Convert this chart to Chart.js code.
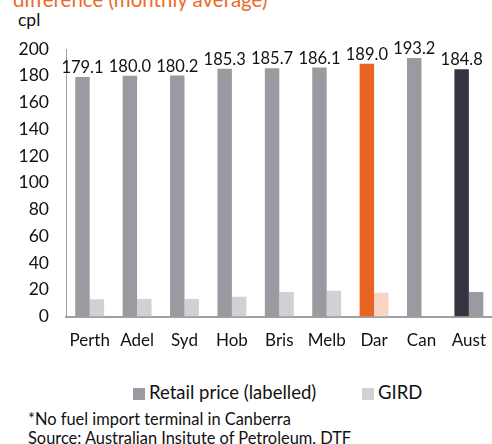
<!DOCTYPE html>
<html><head><meta charset="utf-8">
<script src="https://cdn.jsdelivr.net/npm/chart.js@4"></script>
<style>
html,body{margin:0;padding:0;background:#fff;overflow:hidden;width:492px;height:444px;font-family:Lato,"Open Sans",sans-serif;}
#wrap{position:absolute;left:0;top:0;width:500px;height:365px;}
.t{position:absolute;white-space:nowrap;color:#111;}
#title{left:13px;top:-11px;font-size:20.5px;line-height:1;color:#ee6a2a;}
#cpl{left:18px;top:9px;font-size:17.5px;}
#legend{position:absolute;top:381px;left:0;width:492px;font-size:18.5px;color:#111;}
.li{position:absolute;top:0;white-space:nowrap;}
.sw{display:inline-block;width:12px;height:12px;margin-right:4px;vertical-align:-1px;}
#f1{left:28px;top:409px;font-size:16.4px;}
#f2{left:28px;top:428px;font-size:16.4px;}
</style></head>
<body>
<div class="t" id="title">difference (monthly average)</div>
<div class="t" id="cpl">cpl</div>
<div id="wrap"><canvas id="c" width="500" height="365"></canvas></div>
<div id="legend">
  <span class="li" style="left:133px"><span class="sw" style="background:#9a9ba0"></span>Retail price (labelled)</span>
  <span class="li" style="left:362px"><span class="sw" style="background:#d0d1d5"></span>GIRD</span>
</div>
<div class="t" id="f1">*No fuel import terminal in Canberra</div>
<div class="t" id="f2">Source: Australian Insitute of Petroleum, DTF</div>
<script>
const categories = ["Perth","Adel","Syd","Hob","Bris","Melb","Dar","Can","Aust"];
const retailPrice = [179.1,180.0,180.2,185.3,185.7,186.1,189.0,193.2,184.8];
const gird = [12.9,13.1,13.1,14.8,18.4,19.3,17.8,null,18.4];
const yTicks = [0,20,40,60,80,100,120,140,160,180,200];

const retailColors = ["#9a9ba0","#9a9ba0","#9a9ba0","#9a9ba0","#9a9ba0","#9a9ba0","#e86424","#9a9ba0","#343541"];
const girdColors = ["#d0d1d5","#d0d1d5","#d0d1d5","#d0d1d5","#d0d1d5","#d0d1d5","#f8d5c5","#d0d1d5","#9a9ba0"];

const labelPlugin = {
  id:'barLabels',
  afterDatasetsDraw(chart){
    const ctx = chart.ctx;
    const meta = chart.getDatasetMeta(0);
    ctx.save();
    ctx.font = '16.5px Lato';
    ctx.fillStyle = '#111';
    ctx.textAlign = 'center';
    ctx.textBaseline = 'bottom';
    meta.data.forEach((bar,i)=>{
      ctx.fillText(retailPrice[i].toFixed(1), bar.x, bar.y - 1);
    });
    ctx.restore();
  }
};

new Chart(document.getElementById('c'),{
  type:'bar',
  data:{
    labels:categories,
    datasets:[
      {label:'Retail price (labelled)',data:retailPrice,backgroundColor:retailColors,categoryPercentage:0.61,barPercentage:1},
      {label:'GIRD',data:gird,backgroundColor:girdColors,categoryPercentage:0.61,barPercentage:1}
    ]
  },
  options:{
    responsive:false,
    animation:false,
    layout:{padding:{top:49,left:0,right:0,bottom:0}},
    plugins:{legend:{display:false},tooltip:{enabled:false}},
    scales:{
      x:{
        grid:{display:false,drawTicks:false},
        border:{display:true,color:'#a0a0a0',width:2},
        ticks:{color:'#111',font:{family:'Lato',size:17},padding:14,maxRotation:0,autoSkip:false}
      },
      y:{
        min:0,max:200,
        afterBuildTicks(s){s.ticks = yTicks.map(v=>({value:v}));},
        afterFit(s){s.width = 66;},
        grid:{display:false,drawTicks:false},
        border:{display:true,color:'#a0a0a0',width:1},
        ticks:{color:'#111',font:{family:'Lato',size:17.5},padding:17}
      }
    }
  },
  plugins:[labelPlugin]
});
</script>
</body></html>
